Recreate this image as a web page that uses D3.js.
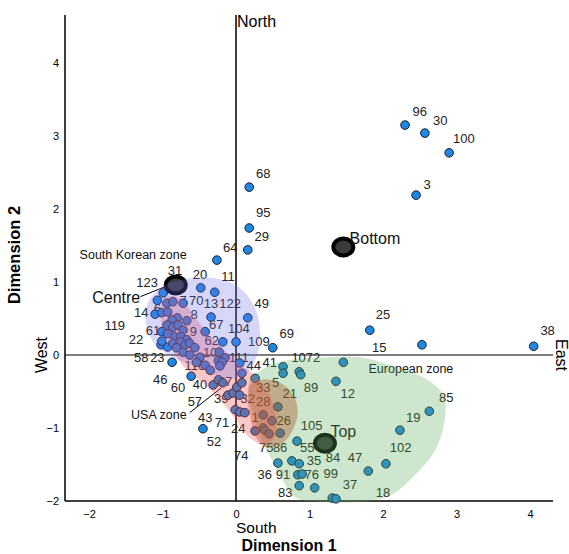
<!DOCTYPE html>
<html><head><meta charset="utf-8">
<script src="https://cdn.jsdelivr.net/npm/d3@7"></script>
<style>body{margin:0;background:#fff} text{font-family:"Liberation Sans",Arial,sans-serif}</style>
</head><body><svg id="c" width="569" height="554"></svg>
<script>
// ---------------- data ----------------
const xTicks = [-2, -1, 0, 1, 2, 3, 4];
const yTicks = [-2, -1, 0, 1, 2, 3, 4];

// observation points (Dimension 1, Dimension 2)
const points = [
  [2.30,3.15],[2.57,3.04],[2.90,2.77],[2.45,2.19],[4.05,0.12],[1.82,0.34],[2.53,0.14],
  [1.46,-0.10],[1.36,-0.36],[2.63,-0.77],[2.23,-1.03],[2.04,-1.49],[1.80,-1.59],
  [1.31,-1.96],[1.36,-1.97],[1.07,-1.82],[0.86,-1.79],[0.84,-1.64],[0.90,-1.63],
  [0.57,-1.48],[0.76,-1.45],[0.86,-1.49],[0.83,-1.18],
  [0.57,-0.71],[0.37,-0.82],[0.49,-0.90],[0.37,-1.00],[0.39,-1.03],[0.45,-1.08],[0.60,-1.07],
  [0.26,-1.04],[0.64,-0.16],[0.64,-0.25],[0.86,-0.23],[0.88,-0.27],[0.26,-0.32],[0.08,-0.25],
  [0.50,0.10],[0.16,0.51],[0.18,2.30],[0.18,1.74],[0.16,1.44],[-0.26,1.30],
  [-0.48,0.92],[-0.29,0.86],[-0.34,0.52],[-0.42,0.32],[-0.18,0.18],[0.00,0.18],[-0.67,0.47],
  [-1.02,0.14],[-0.93,0.11],[-0.87,-0.10],[-0.61,-0.29],[-0.23,0.04],[-0.15,-0.04],[-0.24,-0.08],
  [0.05,-0.11],[-0.45,-1.01],[-0.99,0.85],[-1.07,0.75],[-0.94,0.71],[-0.86,0.73],[-0.72,0.71],
  [-1.10,0.56],[-1.01,0.58],
  [-0.93,0.59],[-0.80,0.51],[-0.87,0.48],[-0.94,0.41],[-0.86,0.38],[-0.79,0.41],[-0.72,0.34],
  [-1.01,0.32],[-0.93,0.29],[-0.83,0.25],[-0.75,0.25],[-0.67,0.21],[-1.01,0.19],[-0.86,0.16],
  [-0.76,0.18],[-0.69,0.14],[-0.63,0.16],[-0.81,0.10],[-0.56,0.10],[-0.72,0.04],[-0.63,0.00],
  [-0.49,-0.03],[-0.54,-0.10],[-0.42,-0.14],[-0.35,-0.21],[-0.19,-0.10],[-0.22,-0.15],
  [-0.31,-0.41],[-0.24,-0.34],[-0.18,-0.38],[-0.11,-0.55],[-0.04,-0.52],[0.01,-0.44],
  [0.05,-0.55],[0.08,-0.38],[-0.01,-0.75],[0.05,-0.78],[0.12,-0.79]
];

// point labels [text, Dimension 1, Dimension 2]
const pointLabels = [
  ["96",2.50,3.34],["30",2.78,3.22],["100",3.10,2.97],["3",2.60,2.34],["38",4.24,0.33],
  ["25",2.00,0.55],["15",1.95,0.10],["68",0.37,2.49],["95",0.37,1.95],["29",0.35,1.62],
  ["64",-0.08,1.48],["20",-0.49,1.10],["11",-0.11,1.07],["31",-0.83,1.16],["123",-1.21,0.99],
  ["7",-0.72,0.75],["70",-0.54,0.75],["13",-0.34,0.71],["122",-0.08,0.71],["49",0.35,0.71],
  ["14",-1.29,0.58],["6",-1.07,0.64],["8",-0.57,0.55],["119",-1.65,0.41],["61",-1.13,0.34],
  ["9",-0.58,0.32],["67",-0.27,0.42],["104",0.04,0.37],["22",-1.36,0.21],["62",-0.33,0.20],
  ["109",0.31,0.18],["69",0.69,0.30],["10",-0.35,0.03],["58",-1.29,-0.03],["23",-1.07,-0.03],
  ["111",0.04,-0.03],["41",0.46,-0.10],["44",0.24,-0.14],["1072",0.95,-0.03],["116",-0.56,-0.14],
  ["46",-1.03,-0.34],["60",-0.79,-0.45],["40",-0.49,-0.41],["27",-0.15,-0.36],["5",0.54,-0.37],
  ["33",0.37,-0.45],["21",0.73,-0.52],["89",1.02,-0.44],["12",1.52,-0.52],["57",-0.56,-0.64],
  ["39",-0.20,-0.59],["32",0.16,-0.59],["28",0.37,-0.64],["1",0.26,-0.85],["26",0.65,-0.89],
  ["43",-0.42,-0.85],["71",-0.19,-0.93],["24",0.03,-1.00],["52",-0.30,-1.19],["75",0.41,-1.26],
  ["86",0.60,-1.26],["105",1.03,-0.96],["55",0.97,-1.26],["74",0.07,-1.38],["35",1.06,-1.44],
  ["84",1.32,-1.40],["47",1.62,-1.41],["36",0.39,-1.64],["91",0.64,-1.64],["76",1.03,-1.64],
  ["99",1.29,-1.62],["37",1.55,-1.78],["83",0.67,-1.88],["18",2.00,-1.88],["102",2.24,-1.27],
  ["19",2.41,-0.85],["85",2.86,-0.58]
];

// group centroids [name, x, y, labelX, labelY]
const centroids = [
  ["Centre",-0.82,0.96,-1.63,0.79],
  ["Bottom",1.46,1.48,1.89,1.60],
  ["Top",1.21,-1.21,1.46,-1.05]
];

// zone outlines
const zoneKorea = [[-1.21,0.68],[-1.03,0.92],[-0.69,1.04],[-0.29,1.05],[0.05,0.92],[0.26,0.64],[0.33,0.27],
  [0.26,-0.07],[0.10,-0.29],[-0.15,-0.32],[-0.49,-0.18],[-0.83,-0.04],[-1.10,0.14],[-1.22,0.41]];
const zoneUSA = [[-0.97,0.78],[-0.79,0.79],[-0.63,0.62],[-0.42,0.34],[-0.19,0.10],[0.05,-0.12],[0.27,-0.29],
  [0.44,-0.51],[0.54,-0.82],[0.52,-1.14],[0.35,-1.22],[0.16,-1.11],[0,-0.89],[-0.16,-0.68],[-0.42,-0.41],
  [-0.69,-0.18],[-0.87,0.07],[-0.99,0.34],[-1.03,0.62]];
const zoneMixed = [[0.19,-0.41],[0.35,-0.34],[0.60,-0.38],[0.78,-0.55],[0.84,-0.78],[0.76,-1.05],[0.60,-1.23],
  [0.39,-1.26],[0.26,-1.10],[0.19,-0.82],[0.16,-0.59]];
const zoneEurope = [[0.19,-0.34],[0.39,-0.18],[0.73,-0.07],[1.28,-0.03],[1.69,-0.03],[2.16,-0.16],[2.57,-0.32],
  [2.82,-0.55],[2.84,-0.89],[2.71,-1.30],[2.44,-1.64],[2.10,-1.92],[1.69,-2.01],[1.14,-2.01],[0.80,-1.95],
  [0.63,-1.71],[0.49,-1.44],[0.35,-1.16],[0.26,-0.89],[0.19,-0.62]];

// zone captions [text, x, y]
const zoneLabels = [["South Korean zone",-1.40,1.37],["European zone",2.38,-0.18],["USA zone",-1.05,-0.81]];
// leader lines [x1,y1,x2,y2]
const leaders = [[-1.30,0.80,-0.93,0.95],[-0.63,-0.79,-0.20,-0.45]];

// ---------------- chart ----------------
const svg = d3.select("#c");
const L = 65, R = 553, T = 15, B = 501;
const x = d3.scaleLinear().domain([-2.327, 4.313]).range([L, R]);
const y = d3.scaleLinear().domain([-2, 4.658]).range([B, T]);

// axes tick labels
const gx = svg.append("g").attr("transform", `translate(0,${B})`)
  .call(d3.axisBottom(x).tickValues(xTicks).tickSize(0).tickPadding(9).tickFormat(d3.format("d")));
gx.select(".domain").remove();
gx.selectAll("text").attr("font-size", 11).attr("font-family", "Liberation Sans, Arial").attr("fill", "#000");
const gy = svg.append("g").attr("transform", `translate(${L},0)`)
  .call(d3.axisLeft(y).tickValues(yTicks).tickSize(0).tickPadding(6).tickFormat(d3.format("d")));
gy.select(".domain").remove();
gy.selectAll("text").attr("font-size", 11).attr("font-family", "Liberation Sans, Arial").attr("fill", "#000");

// frame & cross lines
const ln = (x1, y1, x2, y2, w) => svg.append("line").attr("x1", x1).attr("y1", y1).attr("x2", x2).attr("y2", y2)
  .attr("stroke", "#000").attr("stroke-width", w);
ln(L, T, L, B, 1.5);
ln(L, B, R, B, 1.5);
ln(x(0), T, x(0), B, 1.5);
ln(L, y(0), R, y(0), 1.2);

// point labels
svg.append("g").selectAll("text").data(pointLabels).join("text")
  .attr("x", d => x(d[1])).attr("y", d => y(d[2])).attr("dy", "0.35em")
  .attr("text-anchor", "middle").attr("font-size", 13).attr("fill", "#222").text(d => d[0]);

// leader lines
svg.append("g").selectAll("line").data(leaders).join("line")
  .attr("x1", d => x(d[0])).attr("y1", d => y(d[1])).attr("x2", d => x(d[2])).attr("y2", d => y(d[3]))
  .attr("stroke", "#000").attr("stroke-width", 1);

// points
svg.append("g").selectAll("circle").data(points).join("circle")
  .attr("cx", d => x(d[0])).attr("cy", d => y(d[1])).attr("r", 4.3)
  .attr("fill", "#1e88e5").attr("stroke", "#1a1a2a").attr("stroke-width", 1);

// centroids
svg.append("g").selectAll("ellipse").data(centroids).join("ellipse")
  .attr("cx", d => x(d[1])).attr("cy", d => y(d[2])).attr("rx", 10).attr("ry", 8.5)
  .attr("fill", "#3a3a3a").attr("stroke", "#000").attr("stroke-width", 4);
svg.append("g").selectAll("text").data(centroids).join("text")
  .attr("x", d => x(d[3])).attr("y", d => y(d[4])).attr("dy", "0.35em")
  .attr("text-anchor", "middle").attr("font-size", 16).attr("fill", "#111").text(d => d[0]);

// zone captions
svg.append("g").selectAll("text").data(zoneLabels).join("text")
  .attr("x", d => x(d[1])).attr("y", d => y(d[2])).attr("dy", "0.35em")
  .attr("text-anchor", "middle").attr("font-size", 12.5).attr("fill", "#111").text(d => d[0]);

// zones (translucent overlays)
const area = d3.line().x(d => x(d[0])).y(d => y(d[1])).curve(d3.curveCatmullRomClosed.alpha(0.5));
const zones = [
  [zoneEurope, "rgba(88,172,88,0.30)"],
  [zoneMixed, "rgba(170,80,30,0.38)"],
  [zoneUSA, "rgba(238,72,72,0.30)"],
  [zoneKorea, "rgba(112,112,237,0.28)"]
];
svg.append("g").selectAll("path").data(zones).join("path")
  .attr("d", d => area(d[0])).attr("fill", d => d[1]).attr("stroke", "none");

// direction words
svg.append("text").attr("x", x(0) + 1).attr("y", 27).attr("font-size", 16).text("North");
svg.append("text").attr("x", x(0)).attr("y", 533).attr("font-size", 15.5).text("South");
svg.append("text").attr("transform", `translate(556,${y(0)}) rotate(90)`).attr("text-anchor", "middle")
  .attr("font-size", 16).text("East");
svg.append("text").attr("transform", `translate(47,${y(0)}) rotate(-90)`).attr("text-anchor", "middle")
  .attr("font-size", 16).text("West");

// axis titles
svg.append("text").attr("x", 289).attr("y", 551).attr("text-anchor", "middle")
  .attr("font-size", 16).attr("font-weight", "bold").text("Dimension 1");
svg.append("text").attr("transform", `translate(20,255) rotate(-90)`).attr("text-anchor", "middle")
  .attr("font-size", 16.5).attr("font-weight", "bold").text("Dimension 2");
</script></body></html>
